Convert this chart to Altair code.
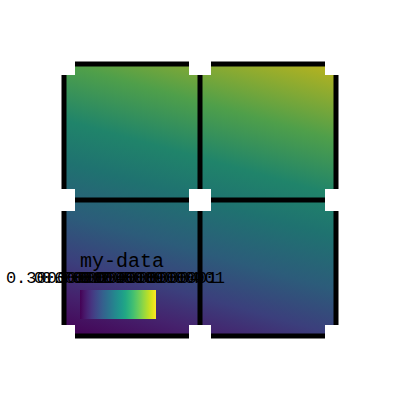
import altair as alt
import pandas as pd

# ---- data ----
grid_positions = [0.0, 0.5, 1.0]          # grid lines / white squares (data units)
legend_values = [0.0, 1.0]                 # range of "my-data"
legend_ticks = [0, 0.1, 0.2, 0.30000000000000004, 0.4, 0.5,
                0.6000000000000001, 0.7000000000000001, 0.8, 0.9, 1.0]
gradient_offsets = [0.0, 0.12, 0.22, 0.35, 0.5, 0.62, 0.78, 1.0]
gradient_colors = ["#440154", "#45226d", "#3b3f7c", "#2c5c7a",
                   "#1f7270", "#20846a", "#4f9f4a", "#bdb41c"]

MONO = "Liberation Mono, Courier New, monospace"

lo, hi = min(grid_positions), max(grid_positions)
xs = alt.Scale(domain=[lo, hi], nice=False, zero=False, padding=0)
ys = alt.Scale(domain=[lo, hi], nice=False, zero=False, padding=0)

field_df = pd.DataFrame({"x": [lo], "x2": [hi], "y": [lo], "y2": [hi]})
vrules = pd.DataFrame({"x": grid_positions, "y": [lo] * 3, "y2": [hi] * 3})
hrules = pd.DataFrame({"y": grid_positions, "x": [lo] * 3, "x2": [hi] * 3})
pts = pd.DataFrame([{"x": a, "y": b} for a in grid_positions for b in grid_positions])
leg_df = pd.DataFrame({"my-data": legend_values})

grad = alt.Gradient(
    gradient="linear",
    stops=[alt.GradientStop(color=c, offset=o) for c, o in zip(gradient_colors, gradient_offsets)],
    x1=0, y1=1, x2=0.33, y2=-0.19,
)

field = alt.Chart(field_df).mark_rect(fill=grad).encode(
    x=alt.X("x:Q", scale=xs, axis=None),
    x2="x2:Q",
    y=alt.Y("y:Q", scale=ys, axis=None),
    y2="y2:Q",
)

legend_layer = alt.Chart(leg_df).mark_rect(opacity=0).encode(
    color=alt.Color(
        "my-data:Q",
        scale=alt.Scale(scheme="viridis", domain=legend_values),
        legend=alt.Legend(
            orient="none", legendX=16, legendY=187, direction="horizontal",
            gradientLength=76, gradientThickness=29, gradientStrokeWidth=0,
            padding=0, titlePadding=19,
            titleFont=MONO, titleFontSize=20, titleFontWeight="normal", titleColor="black",
            labelFont=MONO, labelFontSize=17, labelColor="black",
            labelOverlap=False, values=legend_ticks,
            labelExpr="'' + datum.value", labelOffset=alt.ExprRef("-49"),
        ),
    )
)

vr = alt.Chart(vrules).mark_rule(color="black", strokeWidth=5).encode(
    x=alt.X("x:Q", scale=xs, axis=None), y=alt.Y("y:Q", scale=ys, axis=None), y2="y2:Q"
)
hr = alt.Chart(hrules).mark_rule(color="black", strokeWidth=5).encode(
    y=alt.Y("y:Q", scale=ys, axis=None), x=alt.X("x:Q", scale=xs, axis=None), x2="x2:Q"
)
sq = alt.Chart(pts).mark_point(shape="square", size=484, filled=True, color="white",
                               opacity=1, strokeWidth=0).encode(
    x=alt.X("x:Q", scale=xs, axis=None), y=alt.Y("y:Q", scale=ys, axis=None)
)

chart = alt.layer(field, vr, hr, sq, legend_layer).properties(
    width=272, height=272,
    autosize=alt.AutoSizeParams(type="none"),
    padding={"left": 64, "top": 64, "right": 64, "bottom": 64},
    background="white",
).configure_view(strokeWidth=0)

chart.save("out.html", embed_options={"renderer": "svg", "actions": False})
